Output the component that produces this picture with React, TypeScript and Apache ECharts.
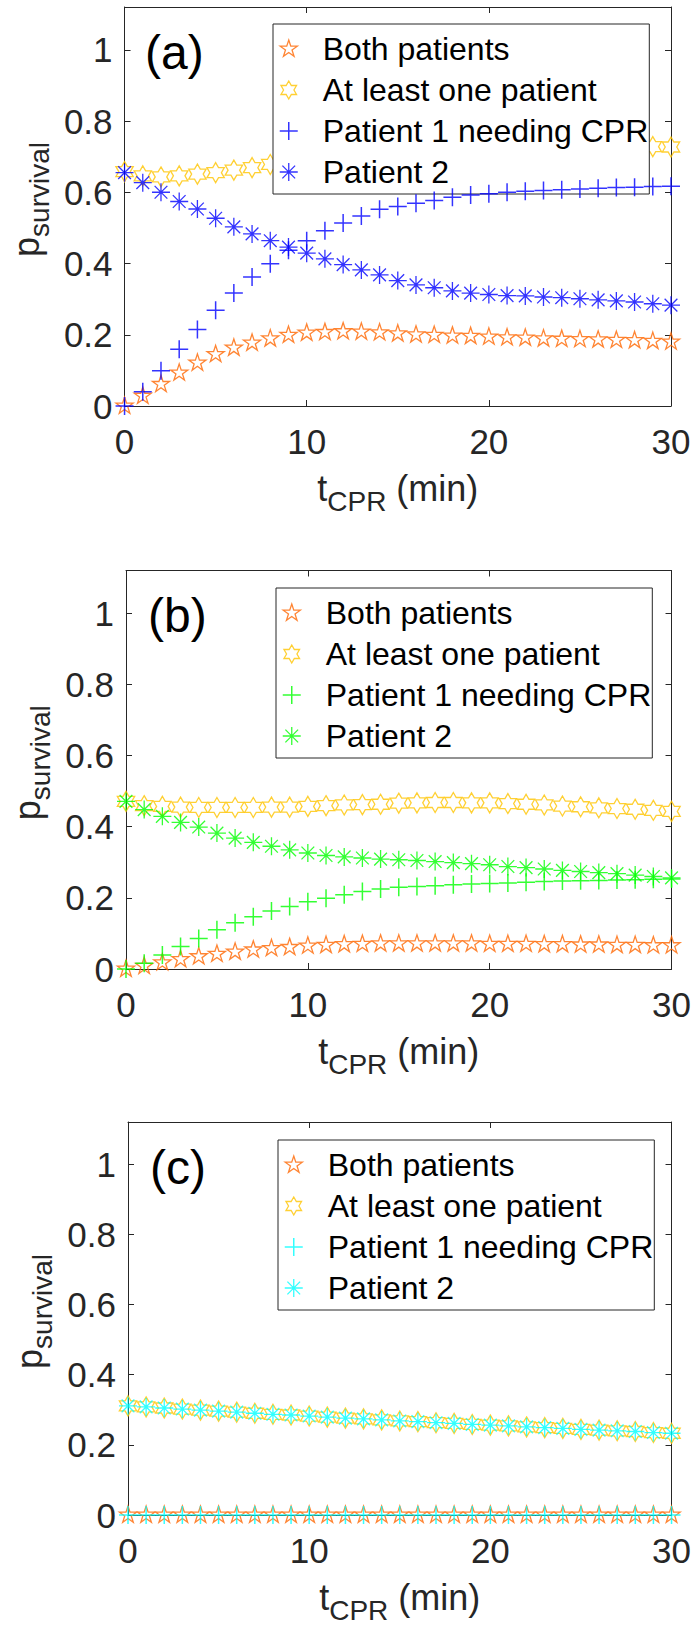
import React, { useEffect, useRef } from 'react';
import * as echarts from 'echarts';

// CPR duration (minutes)
const tMin = [0, 1, 2, 3, 4, 5, 6, 7, 8, 9, 10, 11, 12, 13, 14, 15, 16, 17, 18, 19, 20, 21, 22, 23, 24, 25, 26, 27, 28, 29, 30];

// Panel (a)
const aBoth = [0, 0.028, 0.061, 0.093, 0.121, 0.145, 0.163, 0.177, 0.189, 0.199, 0.205, 0.207, 0.209, 0.208, 0.206, 0.203, 0.200, 0.199, 0.197, 0.196, 0.194, 0.192, 0.191, 0.189, 0.188, 0.187, 0.186, 0.185, 0.184, 0.182, 0.180];
const aAtLeastOne = [0.658, 0.646, 0.643, 0.646, 0.651, 0.655, 0.662, 0.669, 0.678, 0.683, 0.689, 0.696, 0.703, 0.707, 0.711, 0.713, 0.713, 0.714, 0.716, 0.719, 0.720, 0.721, 0.722, 0.723, 0.723, 0.724, 0.725, 0.725, 0.726, 0.728, 0.727];
const aPatient1 = [0, 0.040, 0.099, 0.159, 0.215, 0.269, 0.317, 0.362, 0.399, 0.437, 0.464, 0.492, 0.514, 0.533, 0.552, 0.560, 0.569, 0.577, 0.586, 0.592, 0.596, 0.600, 0.603, 0.605, 0.607, 0.609, 0.611, 0.613, 0.614, 0.616, 0.617];
const aPatient2 = [0.655, 0.627, 0.600, 0.574, 0.553, 0.527, 0.503, 0.483, 0.464, 0.446, 0.429, 0.413, 0.397, 0.382, 0.368, 0.352, 0.340, 0.332, 0.323, 0.317, 0.313, 0.310, 0.309, 0.306, 0.304, 0.301, 0.298, 0.295, 0.292, 0.287, 0.283];

// Panel (b)
const bBoth = [0, 0.008, 0.018, 0.027, 0.035, 0.042, 0.048, 0.054, 0.058, 0.061, 0.065, 0.067, 0.069, 0.070, 0.071, 0.071, 0.071, 0.071, 0.071, 0.071, 0.070, 0.070, 0.070, 0.069, 0.069, 0.068, 0.068, 0.067, 0.067, 0.066, 0.066];
const bAtLeastOne = [0.471, 0.459, 0.457, 0.455, 0.454, 0.454, 0.454, 0.454, 0.455, 0.455, 0.457, 0.459, 0.461, 0.462, 0.463, 0.466, 0.467, 0.468, 0.468, 0.467, 0.467, 0.465, 0.463, 0.461, 0.458, 0.456, 0.453, 0.451, 0.449, 0.446, 0.443];
const bPatient1 = [0, 0.016, 0.039, 0.063, 0.086, 0.110, 0.130, 0.147, 0.163, 0.176, 0.189, 0.199, 0.209, 0.218, 0.225, 0.230, 0.232, 0.234, 0.237, 0.239, 0.240, 0.242, 0.244, 0.246, 0.247, 0.248, 0.249, 0.250, 0.251, 0.252, 0.253];
const bPatient2 = [0.471, 0.448, 0.429, 0.412, 0.399, 0.382, 0.368, 0.356, 0.345, 0.335, 0.326, 0.319, 0.315, 0.312, 0.309, 0.307, 0.305, 0.302, 0.299, 0.296, 0.293, 0.288, 0.285, 0.281, 0.277, 0.274, 0.271, 0.268, 0.264, 0.260, 0.256];

// Panel (c)
const cBoth = [0, 0, 0, 0, 0, 0, 0, 0, 0, 0, 0, 0, 0, 0, 0, 0, 0, 0, 0, 0, 0, 0, 0, 0, 0, 0, 0, 0, 0, 0, 0];
const cAtLeastOne = [0.311, 0.308, 0.305, 0.302, 0.299, 0.296, 0.293, 0.290, 0.287, 0.285, 0.282, 0.279, 0.276, 0.274, 0.271, 0.268, 0.266, 0.263, 0.261, 0.258, 0.256, 0.254, 0.251, 0.249, 0.247, 0.244, 0.242, 0.240, 0.238, 0.235, 0.233];
const cPatient1 = [0, 0, 0, 0, 0, 0, 0, 0, 0, 0, 0, 0, 0, 0, 0, 0, 0, 0, 0, 0, 0, 0, 0, 0, 0, 0, 0, 0, 0, 0, 0];
const cPatient2 = [0.311, 0.308, 0.305, 0.302, 0.299, 0.296, 0.293, 0.290, 0.287, 0.285, 0.282, 0.279, 0.276, 0.274, 0.271, 0.268, 0.266, 0.263, 0.261, 0.258, 0.256, 0.254, 0.251, 0.249, 0.247, 0.244, 0.242, 0.240, 0.238, 0.235, 0.233];

const xTicks = [0, 10, 20, 30];
const yTicks = [0, 0.2, 0.4, 0.6, 0.8, 1];
const seriesNames = ['Both patients', 'At least one patient', 'Patient 1 needing CPR', 'Patient 2'];

const FONT = '"Liberation Sans", Arial, Helvetica, sans-serif';
const AXIS_COLOR = '#262626';
const ORANGE = '#FF6600';
const GOLD = '#FFC400';
const CLEAR = 'rgba(0,0,0,0)';

// Star outline with n points; the trailing moves square up the bounding box
// so the symbol stays centred on its data point.
function starPath(n: number, rOuter: number, rInner: number): string {
  const pts: string[] = [];
  for (let k = 0; k < 2 * n; k++) {
    const r = k % 2 === 0 ? rOuter : rInner;
    const a = -Math.PI / 2 + (k * Math.PI) / n;
    pts.push(`${(r * Math.cos(a)).toFixed(4)},${(r * Math.sin(a)).toFixed(4)}`);
  }
  return 'path://M' + pts.join('L') + 'ZM-1,-1M1,1';
}
const PENTAGRAM = starPath(5, 1, 0.382);
const HEXAGRAM = starPath(6, 1, 0.5774);
const PLUS = 'path://M0,-1L0,1M-1,0L1,0';
const ASTERISK = 'path://M0,-1L0,1M-1,0L1,0M-0.7071,-0.7071L0.7071,0.7071M-0.7071,0.7071L0.7071,-0.7071';

type Panel = {
  label: string;
  top: number;
  grid: { left: number; top: number; width: number; height: number };
  legendLeft: number;
  legendTop: number;
  labelX: number;
  labelY: number;
  color: string;
  both: number[];
  atLeastOne: number[];
  patient1: number[];
  patient2: number[];
};

const panels: Panel[] = [
  { label: '(a)', top: 0, grid: { left: 123, top: 7, width: 548, height: 399 }, legendLeft: 273, legendTop: 24, labelX: 145, labelY: 52, color: '#0000FF', both: aBoth, atLeastOne: aAtLeastOne, patient1: aPatient1, patient2: aPatient2 },
  { label: '(b)', top: 543, grid: { left: 126, top: 27.5, width: 547, height: 398.5 }, legendLeft: 276, legendTop: 45, labelX: 148, labelY: 72, color: '#00FF00', both: bBoth, atLeastOne: bAtLeastOne, patient1: bPatient1, patient2: bPatient2 },
  { label: '(c)', top: 1086, grid: { left: 128, top: 36, width: 547, height: 399 }, legendLeft: 278, legendTop: 54, labelX: 150, labelY: 81, color: '#00FFFF', both: cBoth, atLeastOne: cAtLeastOne, patient1: cPatient1, patient2: cPatient2 },
];

function buildOption(p: Panel): any {
  const pairs = (arr: number[]) => tMin.map((t, i) => [t, arr[i]]);
  const styles = [
    { symbol: PENTAGRAM, size: 18, color: ORANGE, width: 1.3, data: p.both },
    { symbol: HEXAGRAM, size: 20, color: GOLD, width: 1.3, data: p.atLeastOne },
    { symbol: PLUS, size: 18, color: p.color, width: 1.5, data: p.patient1 },
    { symbol: ASTERISK, size: 18, color: p.color, width: 1.3, data: p.patient2 },
  ];
  const series = styles.map((s, i) => ({
    type: 'scatter',
    name: seriesNames[i],
    data: pairs(s.data),
    symbol: s.symbol,
    symbolSize: s.size,
    symbolKeepAspect: true,
    itemStyle: { color: CLEAR, borderColor: s.color, borderWidth: s.width },
    emphasis: { disabled: true },
    clip: false,
    silent: true,
    z: 2 + i,
  }));
  const axisLine = { show: true, onZero: false, lineStyle: { color: AXIS_COLOR, width: 1 } };
  const axisTick = { show: true, inside: true, length: 6, lineStyle: { color: AXIS_COLOR, width: 1 } };
  const yFmt = (v: number) => {
    const hit = yTicks.find((t) => Math.abs(t - v) < 1e-6);
    return hit === undefined ? '' : String(hit);
  };
  const xFmt = (v: number) => (xTicks.includes(v) ? String(v) : '');
  // main text with a lowered subscript
  const subRich = {
    m: { fontSize: 36, lineHeight: 54, color: AXIS_COLOR, fontFamily: FONT },
    s: { fontSize: 28, lineHeight: 28, verticalAlign: 'bottom', color: AXIS_COLOR, fontFamily: FONT },
  };

  return {
    animation: false,
    backgroundColor: '#ffffff',
    textStyle: { fontFamily: FONT },
    grid: { ...p.grid, containLabel: false },
    xAxis: [
      {
        type: 'value', position: 'bottom', min: 0, max: 30, interval: 10,
        axisLine, axisTick, splitLine: { show: false },
        axisLabel: { fontSize: 35, color: AXIS_COLOR, margin: 18, fontFamily: FONT, formatter: xFmt },
        name: '{m|t}{s|CPR}{m| (min)}', nameLocation: 'middle', nameGap: 55,
        nameTextStyle: { rich: subRich },
      },
      {
        type: 'value', position: 'top', min: 0, max: 30, interval: 10,
        axisLine, axisTick, splitLine: { show: false }, axisLabel: { show: false },
      },
    ],
    yAxis: [
      {
        type: 'value', position: 'left', min: 0, max: 1.12, interval: 0.2,
        axisLine, axisTick, splitLine: { show: false },
        axisLabel: { fontSize: 35, color: AXIS_COLOR, margin: 12, fontFamily: FONT, formatter: yFmt },
        name: '{m|p}{s|survival}', nameLocation: 'middle', nameRotate: 90, nameGap: 70,
        nameTextStyle: { rich: subRich, padding: [0, 0, 0, 14] },
      },
      {
        type: 'value', position: 'right', min: 0, max: 1.12, interval: 0.2,
        axisLine, axisTick, splitLine: { show: false }, axisLabel: { show: false },
      },
    ],
    legend: {
      orient: 'vertical',
      left: p.legendLeft,
      top: p.legendTop,
      padding: [7, 1, 4, 6],
      itemGap: 5,
      itemWidth: 38,
      itemHeight: 18,
      symbolKeepAspect: true,
      selectedMode: false,
      backgroundColor: '#ffffff',
      borderColor: AXIS_COLOR,
      borderWidth: 1,
      borderRadius: 0,
      textStyle: { fontSize: 32, lineHeight: 36, color: '#000000', fontFamily: FONT, padding: [0, 0, 0, 10] },
      data: styles.map((s, i) => ({
        name: seriesNames[i],
        icon: s.symbol,
        itemStyle: { color: CLEAR, borderColor: s.color, borderWidth: s.width },
      })),
    },
    graphic: [
      {
        type: 'text', x: p.labelX, y: p.labelY, z: 10,
        style: { text: p.label, fontSize: 48, fontFamily: FONT, fill: '#000000', align: 'left', verticalAlign: 'middle' },
      },
    ],
    series,
  };
}

export default function App() {
  const r0 = useRef<HTMLDivElement>(null);
  const r1 = useRef<HTMLDivElement>(null);
  const r2 = useRef<HTMLDivElement>(null);

  useEffect(() => {
    const refs = [r0, r1, r2];
    const charts = panels.map((p, i) => {
      const chart = echarts.init(refs[i].current as HTMLDivElement, null, { renderer: 'svg' });
      chart.setOption(buildOption(p));
      return chart;
    });
    return () => charts.forEach((c) => c.dispose());
  }, []);

  const refs = [r0, r1, r2];
  return (
    <div style={{ position: 'absolute', left: 0, top: 0, width: 694, height: 1629, background: '#ffffff' }}>
      {panels.map((p, i) => (
        <div key={p.label} ref={refs[i]} style={{ position: 'absolute', left: 0, top: p.top, width: 694, height: 543 }} />
      ))}
    </div>
  );
}
